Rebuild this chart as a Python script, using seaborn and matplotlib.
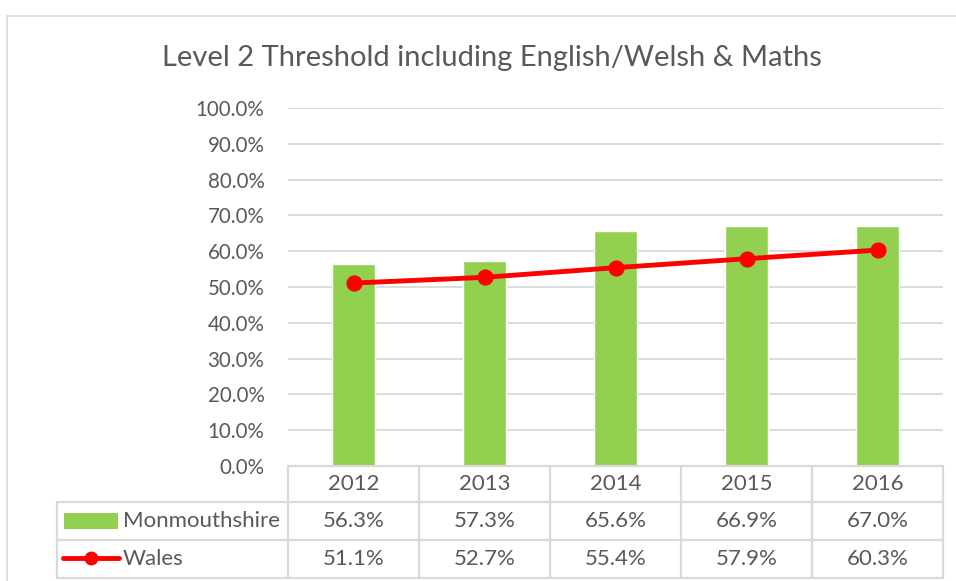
import matplotlib
matplotlib.use("Agg")
import matplotlib.pyplot as plt
import seaborn as sns
import pandas as pd
from matplotlib.patches import Rectangle
from matplotlib.lines import Line2D

years = ["2012", "2013", "2014", "2015", "2016"]
monmouthshire = [0.563, 0.573, 0.656, 0.669, 0.670]
wales = [0.511, 0.527, 0.554, 0.579, 0.603]
series_names = ["Monmouthshire", "Wales"]
title = "Level 2 Threshold including English/Welsh & Maths"

GREEN = "#92D050"
RED = "#FF0000"
TEXT = "#595959"
GRID = "#D9D9D9"
FONT = "Lato"

sns.set_theme(style="white")
plt.rcParams["font.family"] = [FONT, "DejaVu Sans"]

W, H = 956, 581
fig = plt.figure(figsize=(W / 100, H / 100), dpi=100)

def fx(px):
    return px / W

def fy(py):
    return 1 - py / H

# chart outer border
fig.patches.append(Rectangle((fx(7), fy(600)), fx(1000) - fx(7), fy(16) - fy(600),
                             transform=fig.transFigure, fill=False,
                             edgecolor=GRID, linewidth=1.2))

left, right, top, bottom = 288, 943, 108, 466
ax = fig.add_axes([fx(left), fy(bottom), fx(right) - fx(left), fy(top) - fy(bottom)])

df = pd.DataFrame({"year": years, "Monmouthshire": monmouthshire, "Wales": wales})
sns.barplot(data=df, x="year", y="Monmouthshire", color=GREEN, width=0.33,
            saturation=1, ax=ax, zorder=2)
sns.pointplot(data=df, x="year", y="Wales", color=RED, markers="o",
              markersize=9, linewidth=3.5, ax=ax, zorder=3)

ax.set_xlim(-0.5, 4.5)
ax.set_ylim(0, 1.0)
ax.set_yticks([i / 10 for i in range(11)])
ax.set_yticklabels([f"{i * 10:.1f}%" for i in range(11)], color=TEXT, fontsize=14.8)
ax.tick_params(axis="y", length=0, pad=17)
ax.set_xticks([])
ax.set_xlabel("")
ax.set_ylabel("")
for s in ax.spines.values():
    s.set_visible(False)
ax.grid(axis="y", color=GRID, linewidth=1.3, zorder=0)
ax.set_axisbelow(True)

fig.text(fx(492), fy(58), title, ha="center", va="center", fontsize=21, color=TEXT)

# data table
col_edges = [288, 419, 550, 681, 812, 943]
row_edges = [466, 502, 540, 578]
tl = dict(color=GRID, linewidth=1.6, transform=fig.transFigure)
fig.add_artist(Line2D([fx(288), fx(943)], [fy(466), fy(466)], **tl))
for r in row_edges[1:]:
    fig.add_artist(Line2D([fx(57), fx(943)], [fy(r), fy(r)], **tl))
for c in col_edges:
    fig.add_artist(Line2D([fx(c), fx(c)], [fy(466), fy(578)], **tl))
fig.add_artist(Line2D([fx(57), fx(57)], [fy(502), fy(578)], **tl))

TS = 16
row_centers = [(row_edges[i] + row_edges[i + 1]) / 2 for i in range(3)]
for i, yr in enumerate(years):
    cx = (col_edges[i] + col_edges[i + 1]) / 2
    fig.text(fx(cx), fy(row_centers[0]), yr, ha="center", va="center", fontsize=TS, color=TEXT)
    fig.text(fx(cx), fy(row_centers[1]), f"{monmouthshire[i] * 100:.1f}%", ha="center", va="center", fontsize=TS, color=TEXT)
    fig.text(fx(cx), fy(row_centers[2]), f"{wales[i] * 100:.1f}%", ha="center", va="center", fontsize=TS, color=TEXT)

# legend keys
fig.patches.append(Rectangle((fx(64), fy(529)), fx(118) - fx(64), fy(513) - fy(529),
                             transform=fig.transFigure, facecolor=GREEN, edgecolor="none"))
fig.add_artist(Line2D([fx(63), fx(119)], [fy(558), fy(558)], color=RED, linewidth=3.5,
                      transform=fig.transFigure))
fig.add_artist(Line2D([fx(91)], [fy(558)], color=RED, marker="o", markersize=9,
                      transform=fig.transFigure))
fig.text(fx(123), fy(row_centers[1]), series_names[0], ha="left", va="center", fontsize=TS, color=TEXT)
fig.text(fx(123), fy(row_centers[2]), series_names[1], ha="left", va="center", fontsize=TS, color=TEXT)

fig.savefig("out.png", dpi=100)
